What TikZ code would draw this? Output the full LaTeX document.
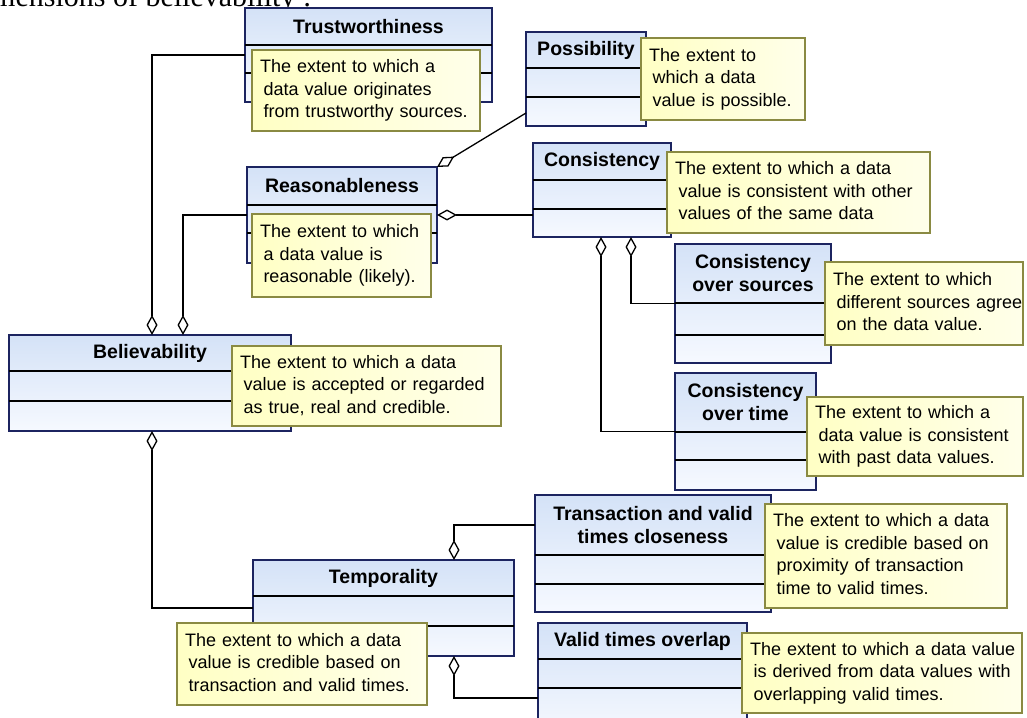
\documentclass[tikz,border=0pt]{standalone}
\usepackage{fontspec}
\setmainfont{Liberation Sans}
\newfontfamily\capfont{Liberation Serif}
\usetikzlibrary{arrows.meta,calc}
\definecolor{clsborder}{RGB}{28,36,96}
\definecolor{clstop}{RGB}{212,226,247}
\definecolor{clsbot}{RGB}{246,249,255}
\definecolor{noteborder}{RGB}{138,138,66}
\definecolor{noteleft}{RGB}{255,255,196}
\definecolor{noteright}{RGB}{255,255,234}
\tikzset{
  cls/.style={draw=clsborder, line width=1.5pt, top color=clstop, bottom color=clsbot,
    rectangle, inner sep=0pt, outer sep=0pt, anchor=north west},
  sepline/.style={line width=1.3pt, black},
  ttl/.style={font=\fontsize{19.5}{23}\selectfont\bfseries, align=center, inner sep=0pt},
  notebox/.style={draw=noteborder, line width=1.3pt, left color=noteleft, right color=noteright,
    rectangle, inner xsep=8pt, inner ysep=0pt, outer sep=0pt, align=left,
    font=\fontsize{18}{22.5}\selectfont, anchor=north west},
  agg/.style={line width=1.3pt, black, arrows={Diamond[open,length=20pt,width=11pt]-}},
}
% name, x, y, width, height, sep1 offset, sep2 offset, title
\newcommand\clsbox[8]{%
  \node[cls, minimum width=#4pt, minimum height=#5pt] (#1) at (#2,#3) {};
  \draw[sepline] ([yshift=-#6pt]#1.north west) -- ([yshift=-#6pt]#1.north east);
  \draw[sepline] ([yshift=-#7pt]#1.north west) -- ([yshift=-#7pt]#1.north east);
  \node[ttl] (#1-t) at ($(#1.north west)!0.5!([yshift=-#6pt]#1.north east)$) {#8};
}
% name, x, y, text width, height, text
\newcommand\notebox[6]{%
  \node[notebox, text width=#4pt, minimum height=#5pt] (#1) at (#2,#3)
    {\begin{tabular}{@{}l@{}}#6\end{tabular}};
}
\newcommand\lnind{\hspace*{3.5pt}}
\begin{document}
\begin{tikzpicture}[x=1pt,y=-1pt]
\fill[white] (0,0) rectangle (1027,717);
\useasboundingbox (0,0) rectangle (1027,717);

\node[anchor=base west, inner sep=0pt, font=\capfont\fontsize{30}{32}\selectfont] (cap) at (-8,7) {mensions of believability :};

% classes
\clsbox{trust}{245}{8}{247}{94}{37}{65}{Trustworthiness}
\clsbox{poss}{526}{32}{120}{94}{36}{65}{Possibility}
\clsbox{cons}{533}{143}{138}{94}{37}{66}{Consistency}
\clsbox{reas}{247}{167}{190}{96}{38}{66}{Reasonableness}
\clsbox{believ}{9}{335}{282}{96}{36}{66}{Believability}
\clsbox{srcs}{675}{244}{156}{119}{59}{91}{Consistency\\over sources}
\clsbox{time}{675}{373}{141}{117}{59}{87}{Consistency\\over time}
\clsbox{temp}{253}{560}{261}{96}{36}{66}{Temporality}
\clsbox{trans}{535}{495}{236}{117}{60}{89}{Transaction and valid\\times closeness}
\clsbox{valid}{538}{623}{209}{112}{36}{65}{Valid times overlap}

% aggregation connectors
\draw[agg] ([xshift=143pt]believ.north west) |- (trust.west);
\draw[agg] ([xshift=174pt]believ.north west) |- (reas.west);
\draw[agg] (reas.east) -- (reas.east -| cons.west);
\draw[agg] (reas.north east) -- ([yshift=13pt]poss.south west);
\draw[agg] ([xshift=68pt]cons.south west) |- (time.west);
\draw[agg] ([xshift=98pt]cons.south west) |- (srcs.west);
\draw[agg] ([xshift=143pt]believ.south west) |- (temp.west);
\draw[agg] ([xshift=201pt]temp.north west) |- ([yshift=-30pt]trans.north west);
\draw[agg] ([xshift=201pt]temp.south west) |- ([yshift=-75pt]valid.north west);

% notes
\notebox{tnote}{252}{50}{212}{81}{The extent to which a\\\lnind data value originates\\\lnind from trustworthy sources.}
\notebox{pnote}{641}{38}{148}{82}{The extent to\\\lnind which a data\\\lnind value is possible.}
\notebox{cnote}{667}{152}{247}{81}{The extent to which a data\\\lnind value is consistent with other\\\lnind values of the same data}
\notebox{rnote}{252}{214}{163}{83}{The extent to which\\\lnind a data value is\\\lnind reasonable (likely).}
\notebox{bnote}{232}{346}{253}{80}{The extent to which a data\\\lnind value is accepted or regarded\\\lnind as true, real and credible.}
\notebox{snote}{825}{262}{182}{83}{The extent to which\\\lnind different sources agree\\\lnind on the data value.}
\notebox{tmnote}{807}{397}{200}{79}{The extent to which a\\\lnind data value is consistent\\\lnind with past data values.}
\notebox{tpnote}{177}{623}{234}{82}{The extent to which a data\\\lnind value is credible based on\\\lnind transaction and valid times.}
\notebox{trnote}{765}{504}{226}{104}{The extent to which a data\\\lnind value is credible based on\\\lnind proximity of transaction\\\lnind time to valid times.}
\notebox{vnote}{742}{633}{264}{80}{The extent to which a data value\\\lnind is derived from data values with\\\lnind overlapping valid times.}
\end{tikzpicture}
\end{document}
